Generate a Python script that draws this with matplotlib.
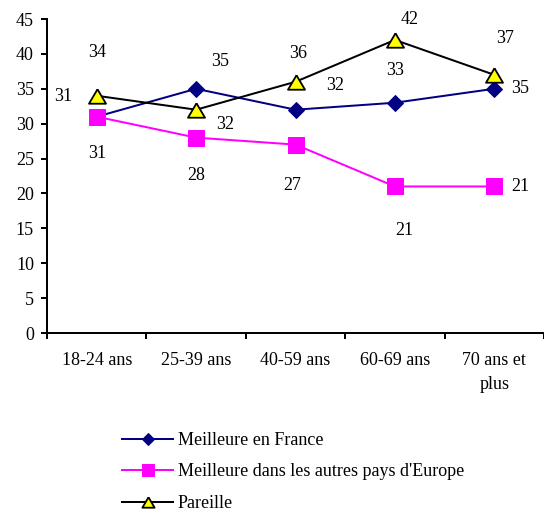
import matplotlib
matplotlib.use("Agg")
import matplotlib.pyplot as plt

categories = ["18-24 ans", "25-39 ans", "40-59 ans", "60-69 ans", "70 ans et\nplus"]
france = [31, 35, 32, 33, 35]
europe = [31, 28, 27, 21, 21]
pareille = [34, 32, 36, 42, 37]
series_names = ["Meilleure en France", "Meilleure dans les autres pays d'Europe", "Pareille"]
y_ticks = [0, 5, 10, 15, 20, 25, 30, 35, 40, 45]

# label offsets (points) relative to each data point
off_france = [(-34, 20), (24, 27), (40, 24), (0, 32), (26, 0)]
off_europe = [(0, -37), (0, -38), (-3, -41), (9, -44), (26, 0)]
off_pareille = [(0, 43), (29, -15), (3, 28), (15, 20), (11, 36)]

plt.rcParams['font.family'] = ['Liberation Serif', 'DejaVu Serif']
FS = 18

fig = plt.figure(figsize=(544 / 72, 512 / 72), dpi=72)
ax = fig.add_axes([47 / 544, 1 - 333 / 512, 497 / 544, (333 - 19) / 512])

x = [i + 0.5 for i in range(len(categories))]

tri = [(0, 0.85), (-1, -0.85), (1, -0.85), (0, 0.85)]

l1, = ax.plot(x, france, color="#000080", lw=2, marker="D", ms=11,
              markerfacecolor="#000080", markeredgecolor="#000080", label=series_names[0], zorder=3)
l2, = ax.plot(x, europe, color="#FF00FF", lw=2, marker="s", ms=15.5,
              markerfacecolor="#FF00FF", markeredgecolor="#FF00FF", label=series_names[1], zorder=3)
l3, = ax.plot(x, pareille, color="black", lw=2, marker=tri, ms=17,
              markerfacecolor="#FFFF00", markeredgecolor="black", markeredgewidth=1.8,
              label=series_names[2], zorder=4)

for vals, offs in ((france, off_france), (europe, off_europe), (pareille, off_pareille)):
    for xi, v, o in zip(x, vals, offs):
        ax.annotate(str(v), (xi, v), xytext=o, textcoords="offset points",
                    ha="center", va="center", fontsize=FS, color="black")

ax.set_xlim(0, len(categories))
ax.set_ylim(0, 45)
ax.set_yticks(y_ticks)
ax.set_xticks(range(len(categories) + 1))
ax.set_xticklabels([])
ax.set_xticks(x, minor=True)
ax.set_xticklabels(categories, minor=True, fontsize=FS, linespacing=1.55, va="top")
ax.tick_params(axis="x", which="minor", length=0, pad=19)
ax.tick_params(axis="x", which="major", length=6, width=2, direction="out")
ax.tick_params(axis="y", length=6, width=2, direction="out", labelsize=FS, pad=7)

for s in ("top", "right"):
    ax.spines[s].set_visible(False)
for s in ("left", "bottom"):
    ax.spines[s].set_linewidth(2)

fig.legend(handles=[l1, l2, l3], loc="upper left", bbox_to_anchor=(122 / 544, 1 - 432 / 512),
           frameon=False, fontsize=FS, handlelength=2.85, handletextpad=0.25,
           labelspacing=0.8, borderpad=0, borderaxespad=0, markerscale=0.72)

fig.savefig("out.png", dpi=72)
